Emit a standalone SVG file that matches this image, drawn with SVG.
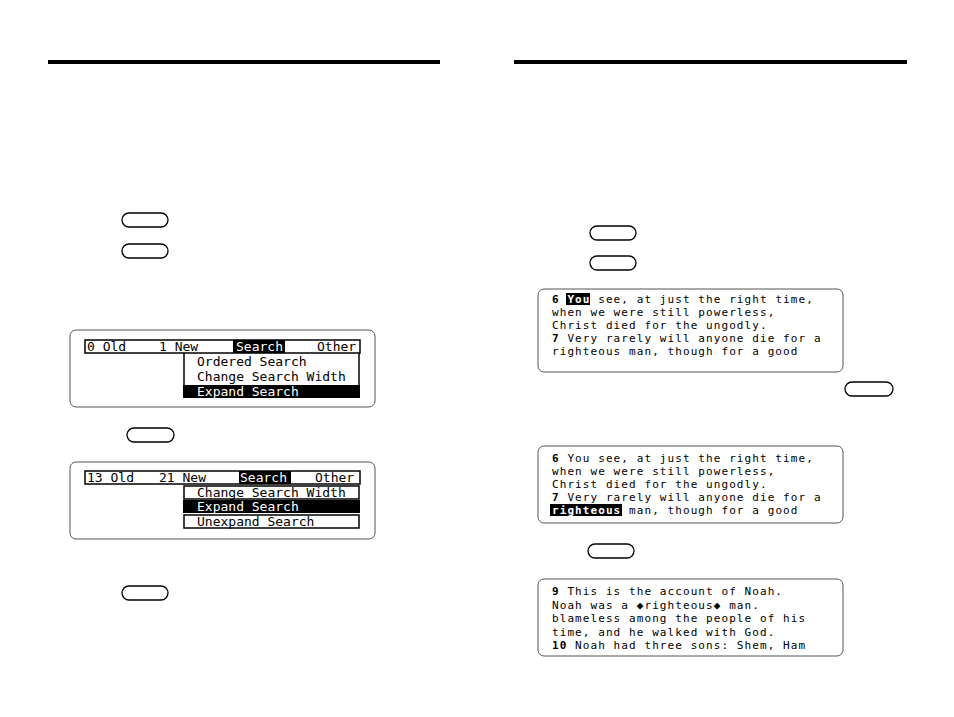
<svg xmlns="http://www.w3.org/2000/svg" width="954" height="717" viewBox="0 0 954 717">
<style>
.rule{fill:#000}
.key{fill:#fff;stroke:#000;stroke-width:1.3}
.scr{fill:#fff;stroke:#555;stroke-width:1}
.lcd{font-family:"DejaVu Sans Mono","Liberation Mono",monospace;font-size:13px;fill:#000}
.lcdr{font-family:"DejaVu Sans Mono","Liberation Mono",monospace;font-size:11px;letter-spacing:1.08px;fill:#000}
.inv{fill:#fff}
.b{font-weight:bold}
.frame{fill:none;stroke:#000;stroke-width:1.5}
.blk{fill:#000}
</style>
<rect width="954" height="717" fill="#fff"/>
<g id="rules">
<rect class="rule" x="48" y="60" width="392" height="4"/>
<rect class="rule" x="514" y="60" width="393" height="4"/>
</g>
<g id="keys">
<rect class="key" x="122" y="213" width="46" height="14" rx="7"/>
<rect class="key" x="122" y="244" width="46" height="14" rx="7"/>
<rect class="key" x="127" y="428" width="47" height="14" rx="7"/>
<rect class="key" x="122" y="586" width="46" height="14" rx="7"/>
<rect class="key" x="590" y="226" width="46" height="14" rx="7"/>
<rect class="key" x="590" y="256" width="46" height="14" rx="7"/>
<rect class="key" x="845" y="382" width="48" height="14" rx="7"/>
<rect class="key" x="588" y="544" width="46" height="14" rx="7"/>
</g>
<g id="screen1">
<rect class="scr" x="70" y="330" width="305" height="77" rx="6"/>
<rect class="frame" x="85" y="340" width="275" height="13"/>
<rect class="blk" x="233" y="340" width="52" height="13"/>
<text class="lcd" x="87" y="350.5">0 Old</text>
<text class="lcd" x="159" y="350.5">1 New</text>
<text class="lcd inv" x="236" y="350.5">Search</text>
<text class="lcd" x="317" y="350.5">Other</text>
<line x1="184" y1="353" x2="184" y2="385" stroke="#000" stroke-width="1.5"/>
<line x1="359" y1="353" x2="359" y2="385" stroke="#000" stroke-width="1.5"/>
<text class="lcd" x="197" y="365.5">Ordered Search</text>
<text class="lcd" x="197" y="380.5">Change Search Width</text>
<rect class="blk" x="183" y="385" width="177" height="13"/>
<text class="lcd inv" x="197" y="395.5">Expand Search</text>
</g>
<g id="screen2">
<rect class="scr" x="70" y="462" width="305" height="77" rx="6"/>
<rect class="frame" x="85" y="471" width="275" height="13"/>
<rect class="blk" x="239" y="471" width="52" height="13"/>
<text class="lcd" x="87" y="481.5">13 Old</text>
<text class="lcd" x="159" y="481.5">21 New</text>
<text class="lcd inv" x="240" y="481.5">Search</text>
<text class="lcd" x="315" y="481.5">Other</text>
<rect class="frame" x="184" y="486" width="175" height="13"/>
<text class="lcd" x="197" y="496.5">Change Search Width</text>
<rect class="blk" x="183" y="500" width="177" height="13"/>
<text class="lcd inv" x="197" y="510.5">Expand Search</text>
<rect class="frame" x="184" y="515" width="175" height="13"/>
<text class="lcd" x="197" y="525.5">Unexpand Search</text>
</g>
<g id="screen3">
<rect class="scr" x="538" y="289" width="305" height="83" rx="6"/>
<rect class="blk" x="566" y="293" width="24" height="12"/>
<text class="lcdr" x="552" y="303"><tspan class="b">6</tspan> <tspan class="inv b">You</tspan> see, at just the right time,</text>
<text class="lcdr" x="552" y="316">when we were still powerless,</text>
<text class="lcdr" x="552" y="329">Christ died for the ungodly.</text>
<text class="lcdr" x="552" y="342"><tspan class="b">7</tspan> Very rarely will anyone die for a</text>
<text class="lcdr" x="552" y="355">righteous man, though for a good</text>
</g>
<g id="screen4">
<rect class="scr" x="538" y="446" width="305" height="77" rx="6"/>
<rect class="blk" x="550" y="504" width="72" height="12"/>
<text class="lcdr" x="552" y="462"><tspan class="b">6</tspan> You see, at just the right time,</text>
<text class="lcdr" x="552" y="475">when we were still powerless,</text>
<text class="lcdr" x="552" y="488">Christ died for the ungodly.</text>
<text class="lcdr" x="552" y="501"><tspan class="b">7</tspan> Very rarely will anyone die for a</text>
<text class="lcdr" x="552" y="514"><tspan class="inv b">righteous</tspan> man, though for a good</text>
</g>
<g id="screen5">
<rect class="scr" x="538" y="579" width="305" height="77" rx="6"/>
<text class="lcdr" x="552" y="595"><tspan class="b">9</tspan> This is the account of Noah.</text>
<text class="lcdr" x="552" y="608.5">Noah was a ◆righteous◆ man.</text>
<text class="lcdr" x="552" y="622">blameless among the people of his</text>
<text class="lcdr" x="552" y="635.5">time, and he walked with God.</text>
<text class="lcdr" x="552" y="649"><tspan class="b">10</tspan> Noah had three sons: Shem, Ham</text>
</g>
</svg>
